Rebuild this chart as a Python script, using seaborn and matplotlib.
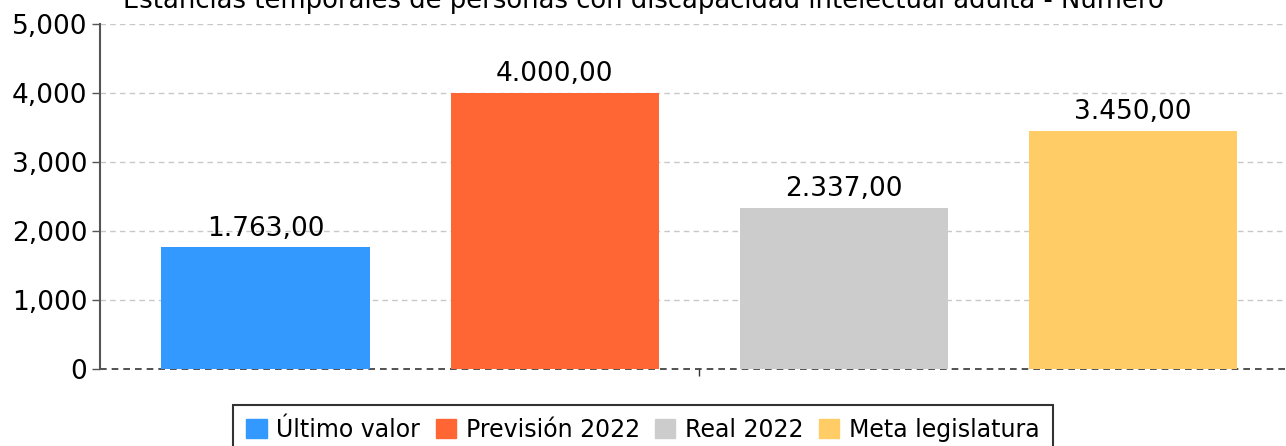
import pandas as pd
import numpy as np
import matplotlib
matplotlib.use('Agg')
import matplotlib.pyplot as plt
import seaborn as sns
from matplotlib.ticker import FuncFormatter

# datos
series = ['Último valor', 'Previsión 2022', 'Real 2022', 'Meta legislatura']
valores = [1763.00, 4000.00, 2337.00, 3450.00]
colores = ['#3399FF', '#FF6633', '#CCCCCC', '#FFCC66']
titulo = 'Estancias temporales de personas con discapacidad intelectual adulta - Número'

df = pd.DataFrame({'cat': [''] * len(series), 'serie': series, 'valor': valores})

sns.set_style('white')
plt.rcParams['font.family'] = ['DejaVu Sans']
plt.rcParams['text.color'] = 'black'
plt.rcParams['ytick.labelcolor'] = 'black'

fig = plt.figure(figsize=(12.86, 4.46), dpi=100)
ax = fig.add_axes([100/1286, 1 - 369/446, 1 - 100/1286, (369 - 24)/446])

sns.barplot(data=df, x='cat', y='valor', hue='serie', hue_order=series,
            palette=colores, width=0.8, gap=0.28, saturation=1,
            linewidth=0, legend=False, ax=ax)

ax.set_ylim(0, 5000)
ax.set_xlim(-0.4145, 0.406)
ax.set_yticks(np.arange(0, 5001, 1000))
ax.yaxis.set_major_formatter(FuncFormatter(lambda v, p: f'{int(v):,}'))
ax.set_xlabel('')
ax.set_ylabel('')
ax.set_xticks([0])
ax.set_xticklabels([''])

# rejilla
for v in range(1000, 5001, 1000):
    ax.axhline(v, color='#C8C8C8', lw=1, ls=(0, (4, 3)), zorder=0)
ax.axhline(0, color='#333333', lw=1.2, ls=(0, (4, 3)), zorder=0.5, clip_on=False)

for s in ['top', 'right', 'bottom']:
    ax.spines[s].set_visible(False)
ax.spines['left'].set_color('#555555')
ax.spines['left'].set_linewidth(1.5)
ax.tick_params(axis='y', left=True, length=6, width=1, color='#555555',
               labelsize=19, labelcolor='black', pad=3)
ax.tick_params(axis='x', bottom=True, length=5, width=1, color='#333333')

# etiquetas de valor (formato europeo)
def fmt_es(v):
    s = f'{v:,.2f}'
    return s.replace(',', 'X').replace('.', ',').replace('X', '.')

for cont in ax.containers:
    ax.bar_label(cont, labels=[fmt_es(b.get_height()) for b in cont],
                 padding=4, fontsize=19, color='black')

fig.text(0.5, 1 - 8/446, titulo, ha='center', va='baseline', fontsize=18.6,
         color='black')

handles = [plt.Rectangle((0, 0), 1, 1, color=c) for c in colores]
leg = fig.legend(handles, series, loc='upper center',
                 bbox_to_anchor=(0.5, 1 - 405/446), ncol=4, fontsize=17,
                 frameon=True, fancybox=False, borderpad=0.55,
                 handlelength=0.85, handleheight=0.85, handletextpad=0.42,
                 columnspacing=0.65, borderaxespad=0)
leg.get_frame().set_edgecolor('black')
leg.get_frame().set_linewidth(1.5)

fig.savefig('out.png', dpi=100)
